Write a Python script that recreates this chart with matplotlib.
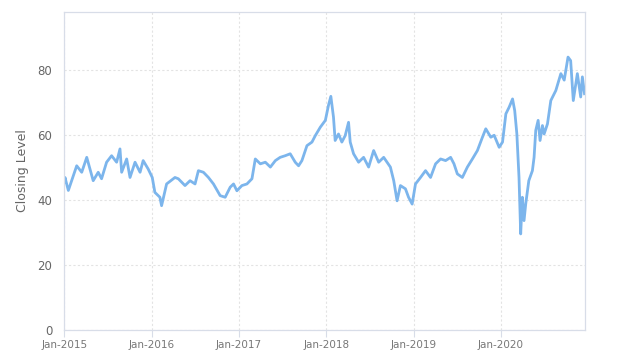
import matplotlib
matplotlib.use("Agg")
import matplotlib.pyplot as plt
import matplotlib.dates as mdates
import pandas as pd

# closing levels
dates = [
    "2015-01-02", "2015-01-04", "2015-01-18", "2015-02-22", "2015-03-15", "2015-04-05",
    "2015-05-02", "2015-05-23", "2015-06-06", "2015-06-27", "2015-07-18", "2015-08-08",
    "2015-08-22", "2015-08-29", "2015-09-19", "2015-10-03", "2015-10-24", "2015-11-14",
    "2015-11-27", "2015-12-18", "2016-01-04", "2016-01-15", "2016-02-05", "2016-02-12",
    "2016-03-04", "2016-04-08", "2016-04-22", "2016-05-20", "2016-06-10", "2016-07-01",
    "2016-07-15", "2016-08-05", "2016-08-26", "2016-09-16", "2016-10-14", "2016-11-04",
    "2016-11-25", "2016-12-09", "2016-12-23", "2017-01-13", "2017-02-03", "2017-02-24",
    "2017-03-10", "2017-03-31", "2017-04-21", "2017-05-12", "2017-06-02", "2017-06-22",
    "2017-07-13", "2017-08-03", "2017-08-24", "2017-09-07", "2017-09-21", "2017-10-12",
    "2017-11-02", "2017-11-16", "2017-12-07", "2017-12-28", "2018-01-10", "2018-01-20",
    "2018-01-31", "2018-02-07", "2018-02-21", "2018-03-07", "2018-03-21", "2018-04-04",
    "2018-04-11", "2018-04-25", "2018-05-16", "2018-06-06", "2018-06-27", "2018-07-18",
    "2018-08-08", "2018-08-29", "2018-09-12", "2018-09-26", "2018-10-10", "2018-10-24",
    "2018-11-07", "2018-11-28", "2018-12-11", "2018-12-26", "2019-01-09", "2019-01-30",
    "2019-02-20", "2019-03-13", "2019-04-03", "2019-04-24", "2019-05-15", "2019-06-05",
    "2019-06-19", "2019-07-03", "2019-07-24", "2019-08-14", "2019-09-04", "2019-09-25",
    "2019-10-16", "2019-10-30", "2019-11-20", "2019-12-04", "2019-12-25", "2020-01-08",
    "2020-01-22", "2020-02-05", "2020-02-19", "2020-02-28", "2020-03-08", "2020-03-17",
    "2020-03-24", "2020-03-31", "2020-04-07", "2020-04-14", "2020-04-27", "2020-05-12",
    "2020-05-19", "2020-05-26", "2020-06-05", "2020-06-13", "2020-06-23", "2020-06-30",
    "2020-07-14", "2020-07-28", "2020-08-18", "2020-09-08", "2020-09-22", "2020-10-08",
    "2020-10-19", "2020-10-30", "2020-11-16", "2020-11-30", "2020-12-07", "2020-12-16",
]
closes = [
    45.5, 47.0, 43.0, 50.6, 48.6, 53.2,
    46.0, 48.6, 46.6, 51.7, 53.7, 51.7,
    55.8, 48.6, 52.7, 47.0, 51.7, 48.6,
    52.2, 49.6, 47.0, 42.4, 40.9, 38.3,
    45.0, 47.0, 46.6, 44.5, 46.0, 45.0,
    49.1, 48.6, 47.0, 45.0, 41.4, 40.9,
    44.0, 45.0, 42.9, 44.5, 45.0, 46.6,
    52.7, 51.2, 51.7, 50.2, 52.2, 53.2,
    53.7, 54.3, 51.7, 50.6, 52.2, 56.8,
    57.9, 59.9, 62.5, 64.6, 69.2, 72.0,
    65.6, 58.4, 60.4, 57.9, 59.9, 64.0,
    57.9, 54.3, 51.7, 53.2, 50.2, 55.3,
    51.7, 53.2, 51.7, 50.2, 46.0, 39.8,
    44.5, 43.5, 40.9, 38.8, 45.0, 47.0,
    49.1, 47.0, 51.2, 52.7, 52.2, 53.2,
    51.2, 48.1, 47.0, 50.2, 52.7, 55.3,
    59.4, 62.0, 59.4, 60.0, 56.3, 57.9,
    66.6, 68.7, 71.2, 67.6, 60.4, 47.0,
    29.6, 40.9, 33.7, 38.8, 46.0, 49.1,
    53.2, 61.5, 64.6, 58.4, 63.0, 60.4,
    63.5, 70.7, 73.8, 79.0, 77.0, 84.1,
    83.0, 70.7, 79.0, 71.8, 78.0, 72.8,
]

yticks = [0, 20, 40, 60, 80]
year_ticks = ["2015-01-01", "2016-01-01", "2017-01-01", "2018-01-01", "2019-01-01", "2020-01-01"]

x = pd.to_datetime(dates)

fig = plt.figure(figsize=(6.24, 3.63), dpi=100)
ax = fig.add_axes([0.103, 0.091, 0.8345, 0.876])

ax.plot(x, closes, color="#7cb5ec", linewidth=2.0, solid_joinstyle="round")

ax.set_ylim(0, 98)
ax.set_xlim(pd.Timestamp("2015-01-01"), pd.Timestamp("2020-12-18"))
ax.set_yticks(yticks)
ax.set_xticks(pd.to_datetime(year_ticks))
ax.xaxis.set_major_formatter(mdates.DateFormatter("%b-%Y"))

ax.grid(True, color="#e3e3e3", linestyle=(0, (2, 2)), linewidth=0.8)
ax.set_axisbelow(True)
for s in ax.spines.values():
    s.set_color("#d8dde8")
    s.set_linewidth(0.9)

ax.tick_params(axis="y", length=0, pad=8.5, labelsize=8.5, labelcolor="#666666")
ax.tick_params(axis="x", length=5, width=0.8, color="#d8dde8", pad=2,
               labelsize=7.5, labelcolor="#777777")
ax.set_ylabel("Closing Level", color="#666666", fontsize=9, labelpad=6)

fig.savefig("out.png", dpi=100, facecolor="white")
